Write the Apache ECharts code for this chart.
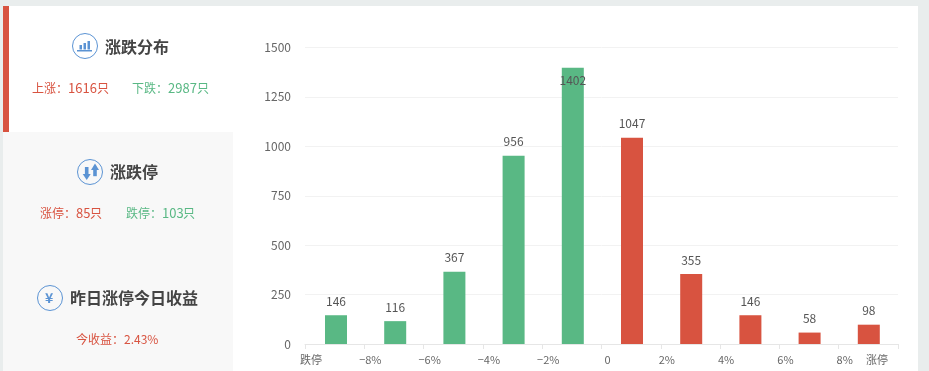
<!DOCTYPE html>
<html><head><meta charset="utf-8">
<style>html,body{margin:0;padding:0;background:#e9eded;overflow:hidden}
#c{position:absolute;left:0;top:0;width:929px;height:371px}
.p{position:absolute}
</style>
<script src="https://cdn.jsdelivr.net/npm/echarts@6/dist/echarts.min.js"></script>
</head><body>
<div class="p" style="left:3px;top:6px;width:915px;height:365px;background:#fff"></div>
<div class="p" style="left:3px;top:132px;width:230px;height:239px;background:#f8f8f8"></div>
<div class="p" style="left:3px;top:6px;width:6px;height:126px;background:#d85340"></div>
<div id="c"></div>
<script>
const barCategories = ['b1','b2','b3','b4','b5','b6','b7','b8','b9','b10'];
const barValues = [146,116,367,956,1402,1047,355,146,58,98];
const tickLabels = ['跌停','−8%','−6%','−4%','−2%','0','2%','4%','6%','8%','涨停'];
const RED='#d85340', GREEN='#59b884', BLUE='#5b93d3';
const UI='"Noto Sans CJK SC","Noto Sans",sans-serif';
const chart = echarts.init(document.getElementById('c'),null,{renderer:'canvas'});
const txt=(x,y,text,fill,size,weight)=>({type:'text',x,y,style:{text,fill,font:`${weight||'normal'} ${size}px ${UI}`,textVerticalAlign:'middle'}});
const ring=(x,y)=>({type:'circle',shape:{cx:x,cy:y,r:12.5},style:{fill:'none',stroke:BLUE,lineWidth:1}});
const rect=(x,y,w,h,fill)=>({type:'rect',shape:{x,y,width:w,height:h},style:{fill}});
const poly=(pts)=>({type:'polygon',shape:{points:pts},style:{fill:BLUE}});
const graphic=[
  ring(85,46), rect(77,50,15,1.5,BLUE), rect(79.5,45,2.5,4.5,BLUE), rect(83.5,43,2.5,6.5,BLUE), rect(87.5,41,2.5,8.5,BLUE),
  txt(105,47,'涨跌分布','#444',16,'bold'),
  txt(32,88,'上涨：',RED,12), txt(68,88,'1616',RED,13), txt(97,88,'只',RED,12),
  txt(132,88,'下跌：',GREEN,12), txt(168,88,'2987',GREEN,13), txt(197,88,'只',GREEN,12),
  ring(90,172),
  poly([[82.7,174],[90.7,174],[86.7,180]]), rect(84.9,167,3.6,7.2,BLUE),
  poly([[91,170],[99,170],[95,163.5]]), rect(93.2,169.8,3.6,6.4,BLUE),
  txt(110,172,'涨跌停','#444',16,'bold'),
  txt(40,213,'涨停：',RED,12), txt(76,213,'85',RED,13), txt(90,213,'只',RED,12),
  txt(126,213,'跌停：',GREEN,12), txt(162,213,'103',GREEN,13), txt(183,213,'只',GREEN,12),
  ring(50,298),
  txt(45,298,'¥',BLUE,14,'bold'),
  txt(70,298,'昨日涨停今日收益','#444',16,'bold'),
  txt(76,339,'今收益：2.43%',RED,12)
];
chart.setOption({
  animation:false,
  backgroundColor:'transparent',
  textStyle:{fontFamily:UI},
  graphic,
  grid:[
    {left:305,right:31,top:47.5,bottom:27},
    {left:306.4,right:30.6,top:48.5,bottom:27}
  ],
  xAxis:[
    {type:'category',gridIndex:0,data:barCategories,boundaryGap:true,
      axisLine:{lineStyle:{color:'#e6e6e6',width:1}},
      axisTick:{show:true,alignWithLabel:false,length:5,lineStyle:{color:'#e6e6e6'}},
      axisLabel:{show:false},splitLine:{show:false}},
    {type:'category',gridIndex:0,data:tickLabels,boundaryGap:false,position:'bottom',
      axisLine:{show:false},axisTick:{show:false},splitLine:{show:false},
      axisLabel:{show:true,interval:0,color:'#666',fontSize:11,margin:10,hideOverlap:false,
        showMinLabel:true,showMaxLabel:true,padding:[0,0,0,12],
        formatter:(v)=>v==='涨停'?'{e|'+v+'}':v,
        rich:{e:{fontSize:11,color:'#666',padding:[0,54,0,0]}}}},
    {type:'category',gridIndex:1,data:barCategories,boundaryGap:true,show:false}
  ],
  yAxis:[
    {type:'value',gridIndex:0,min:0,max:1500,interval:250,
      axisLine:{show:false},axisTick:{show:false},
      axisLabel:{color:'#666',fontSize:12,margin:14,formatter:(v)=>String(v)},
      splitLine:{lineStyle:{color:'#f2f2f2',width:1}}},
    {type:'value',gridIndex:1,min:0,max:1500,interval:250,show:false,splitLine:{show:false}}
  ],
  series:[{type:'bar',xAxisIndex:2,yAxisIndex:1,barWidth:22,
    data:barValues.map((v,i)=>({value:v,
      itemStyle:{color:i<5?GREEN:RED},
      label:i===4?{position:'insideTop',distance:7}:{position:'top',distance:8}})),
    label:{show:true,color:'#555',fontSize:12}}]
});
</script></body></html>
